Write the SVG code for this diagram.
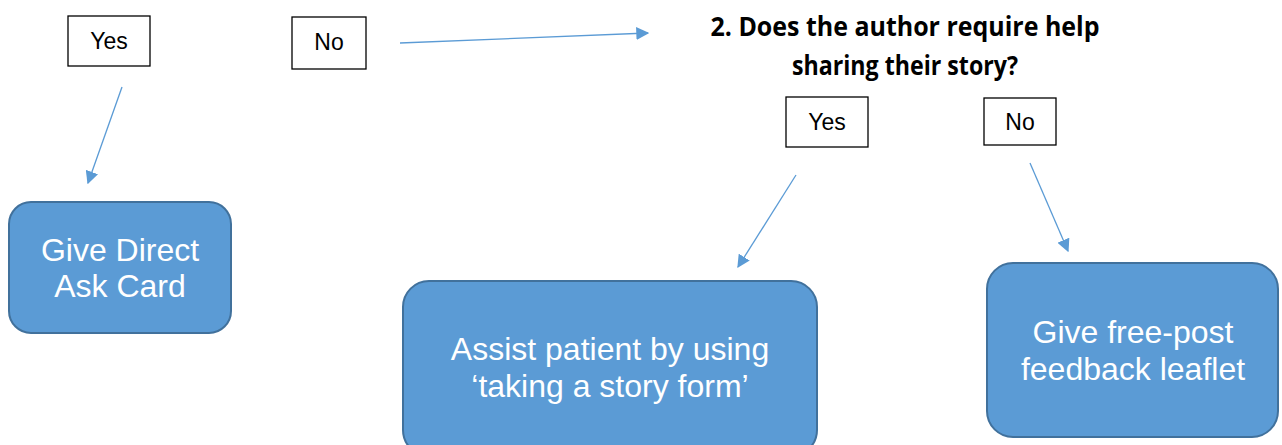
<svg xmlns="http://www.w3.org/2000/svg" width="1282" height="445" viewBox="0 0 1282 445">
<style>
.lbl{fill:#fff;stroke:#000;stroke-width:1.3}
.lt{font-family:"Liberation Sans",Arial,sans-serif;font-size:23px;fill:#000;text-anchor:middle}
.act{fill:#5B9BD5;stroke:#41719C;stroke-width:2}
.at{font-family:"Liberation Sans",Arial,sans-serif;font-size:32px;fill:#fff;text-anchor:middle}
.q{font-family:"Open Sans","Liberation Sans",sans-serif;font-weight:bold;font-size:26px;fill:#000;text-anchor:middle}
.con{stroke:#5B9BD5;stroke-width:1.3;fill:none;marker-end:url(#ah)}
</style>
<defs>
<marker id="ah" viewBox="0 0 10 10" refX="9" refY="5" markerWidth="13" markerHeight="13" markerUnits="userSpaceOnUse" orient="auto">
<path d="M0,0 L10,5 L0,10 z" fill="#5B9BD5"/>
</marker>
</defs>
<rect width="1282" height="445" fill="#fff"/>
<g id="connectors">
<line class="con" x1="122" y1="87" x2="88" y2="183"/>
<line class="con" x1="400" y1="43" x2="648" y2="33"/>
<line class="con" x1="796" y1="175" x2="738" y2="267"/>
<line class="con" x1="1030" y1="163" x2="1068" y2="251"/>
</g>
<g id="yes1"><rect class="lbl" x="68" y="16" width="82" height="50"/><text class="lt" x="109" y="49">Yes</text></g>
<g id="no1"><rect class="lbl" x="292" y="17" width="74" height="52"/><text class="lt" x="329" y="50">No</text></g>
<g id="question">
<text class="q" x="905" y="36" textLength="389" lengthAdjust="spacingAndGlyphs">2. Does the author require help</text>
<text class="q" x="905" y="75" textLength="226" lengthAdjust="spacingAndGlyphs">sharing their story?</text>
</g>
<g id="yes2"><rect class="lbl" x="786" y="97" width="82" height="50"/><text class="lt" x="827" y="130">Yes</text></g>
<g id="no2"><rect class="lbl" x="984" y="98" width="72" height="47"/><text class="lt" x="1020" y="130">No</text></g>
<g id="direct"><rect class="act" x="9" y="202" width="222" height="131" rx="22"/><text class="at" x="120" y="261">Give Direct</text><text class="at" x="120" y="297">Ask Card</text></g>
<g id="assist"><rect class="act" x="403" y="281" width="414" height="175" rx="26"/><text class="at" x="610" y="360">Assist patient by using</text><text class="at" x="610" y="397">‘taking a story form’</text></g>
<g id="leaflet"><rect class="act" x="987" y="263" width="291" height="174" rx="26"/><text class="at" x="1133" y="343">Give free-post</text><text class="at" x="1133" y="380">feedback leaflet</text></g>
</svg>
